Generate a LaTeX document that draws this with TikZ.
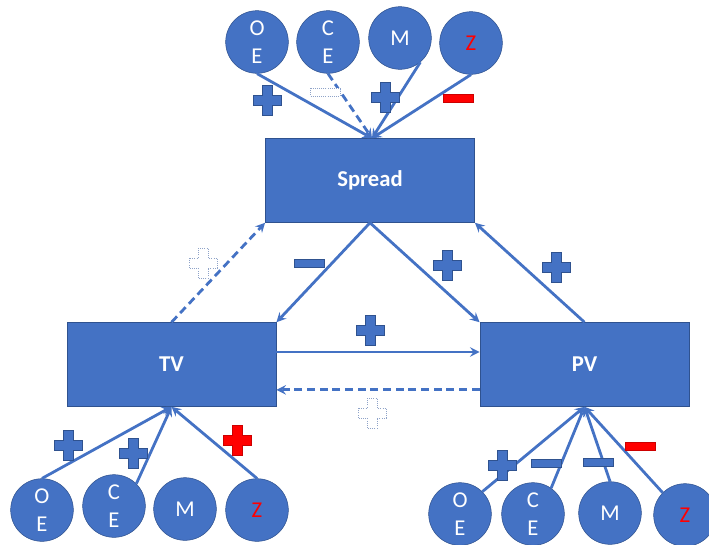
\documentclass[tikz,border=0pt]{standalone}
\usepackage{fontspec}
\setmainfont{Carlito}
\usepackage{xcolor}
\usepackage{tikz}
\usetikzlibrary{arrows, positioning}

\definecolor{officeblue}{HTML}{4472C4}
\definecolor{officeedge}{HTML}{2F528F}
\definecolor{hollowedge}{HTML}{8FA3C8}

\begin{document}
\begin{tikzpicture}[
  x=0.75pt, y=-0.75pt, >=stealth,
  block/.style={rectangle, draw=officeedge, fill=officeblue, minimum width=157pt, minimum height=63pt, text=white, font=\fontsize{17}{20}\selectfont\bfseries},
  factor/.style={circle, draw=officeedge, fill=officeblue, minimum size=47pt, inner sep=0pt, align=center, text=white, font=\fontsize{17}{21}\selectfont},
  link/.style={->, draw=officeblue, line width=2.1pt},
  weaklink/.style={link, dash pattern=on 6pt off 3.5pt},
  bluesign/.style={fill=officeblue, draw=officeedge, line width=0.5pt},
  redsign/.style={fill=red, draw=red!80!black, line width=0.5pt},
  hollowsign/.style={fill=white, draw=hollowedge, densely dotted, line width=0.6pt},
  plussign/.pic={\path[pic actions] (-5,-15) -- (5,-15) -- (5,-5) -- (14,-5) -- (14,5) -- (5,5) -- (5,15) -- (-5,15) -- (-5,5) -- (-14,5) -- (-14,-5) -- (-5,-5) -- cycle;},
  minussign/.pic={\path[pic actions] (-15,-4) rectangle (15,4);},
]
  \useasboundingbox (0,0) rectangle (709,544);

  % main blocks
  \node[block] (spread) at (370,180.5) {Spread};
  \node[block] (tv) at (171.5,364.5) {TV};
  \node[block] (pv) at (584.5,364.5) {PV};

  % factors of the spread
  \node[factor] (toe) at (257,42) {O\\E};
  \node[factor] (tce) at (328,42) {C\\E};
  \node[factor] (tm) at (400,38) {M};
  \node[factor, text=red] (tz) at (471,43) {Z};

  % factors of TV
  \node[factor] (loe) at (42,510) {O\\E};
  \node[factor] (lce) at (114,506) {C\\E};
  \node[factor] (lm) at (185,509) {M};
  \node[factor, text=red] (lz) at (257,510) {Z};

  % factors of PV
  \node[factor] (roe) at (460,514) {O\\E};
  \node[factor] (rce) at (533,514) {C\\E};
  \node[factor] (rm) at (610,513) {M};
  \node[factor, text=red] (rz) at (685,515) {Z};

  \coordinate (stop) at ([xshift=1.5pt]spread.north);

  \draw[link] (toe.south) -- (stop);
  \draw[weaklink] (tce.south) -- (stop);
  \draw[link] (tm.-50) -- (stop);
  \draw[link] (tz.south) -- (stop);

  \draw[link] (spread.south) -- (tv.north east);
  \draw[link] (spread.south) -- (pv.north west);
  \draw[weaklink] (tv.north) -- (spread.south west);
  \draw[link] (pv.north) -- (spread.south east);

  \draw[link] ([yshift=9.4pt]tv.east) -- ([yshift=9.4pt]pv.west);
  \draw[weaklink] ([yshift=-19pt]pv.west) -- ([yshift=-19pt]tv.east);

  \draw[link] (loe.north) -- (tv.south);
  \draw[link] (lce.45) -- (tv.south);
  \draw[link] (lz.north) -- (tv.south);

  \draw[link] (roe.45) -- (pv.south);
  \draw[link] (rce.55) -- (pv.south);
  \draw[link] (rm.north) -- (pv.south);
  \draw[link] (rz.135) -- (pv.south);

  % signs
  \pic[bluesign] at (267,100) {plussign};
  \pic[hollowsign] at (325,92) {minussign};
  \pic[bluesign] at (385,97) {plussign};
  \pic[redsign] at (458,98) {minussign};

  \pic[hollowsign] at (203,263) {plussign};
  \pic[bluesign] at (309,263) {minussign};
  \pic[bluesign] at (447,265) {plussign};
  \pic[bluesign] at (556,267) {plussign};

  \pic[bluesign] at (370,330) {plussign};
  \pic[hollowsign] at (372,413) {plussign};

  \pic[bluesign] at (68,445) {plussign};
  \pic[bluesign] at (133,453) {plussign};
  \pic[redsign] at (237,440) {plussign};

  \pic[bluesign] at (502,465) {plussign};
  \pic[bluesign] at (546,463) {minussign};
  \pic[bluesign] at (598,462) {minussign};
  \pic[redsign] at (640,446) {minussign};
\end{tikzpicture}
\end{document}
